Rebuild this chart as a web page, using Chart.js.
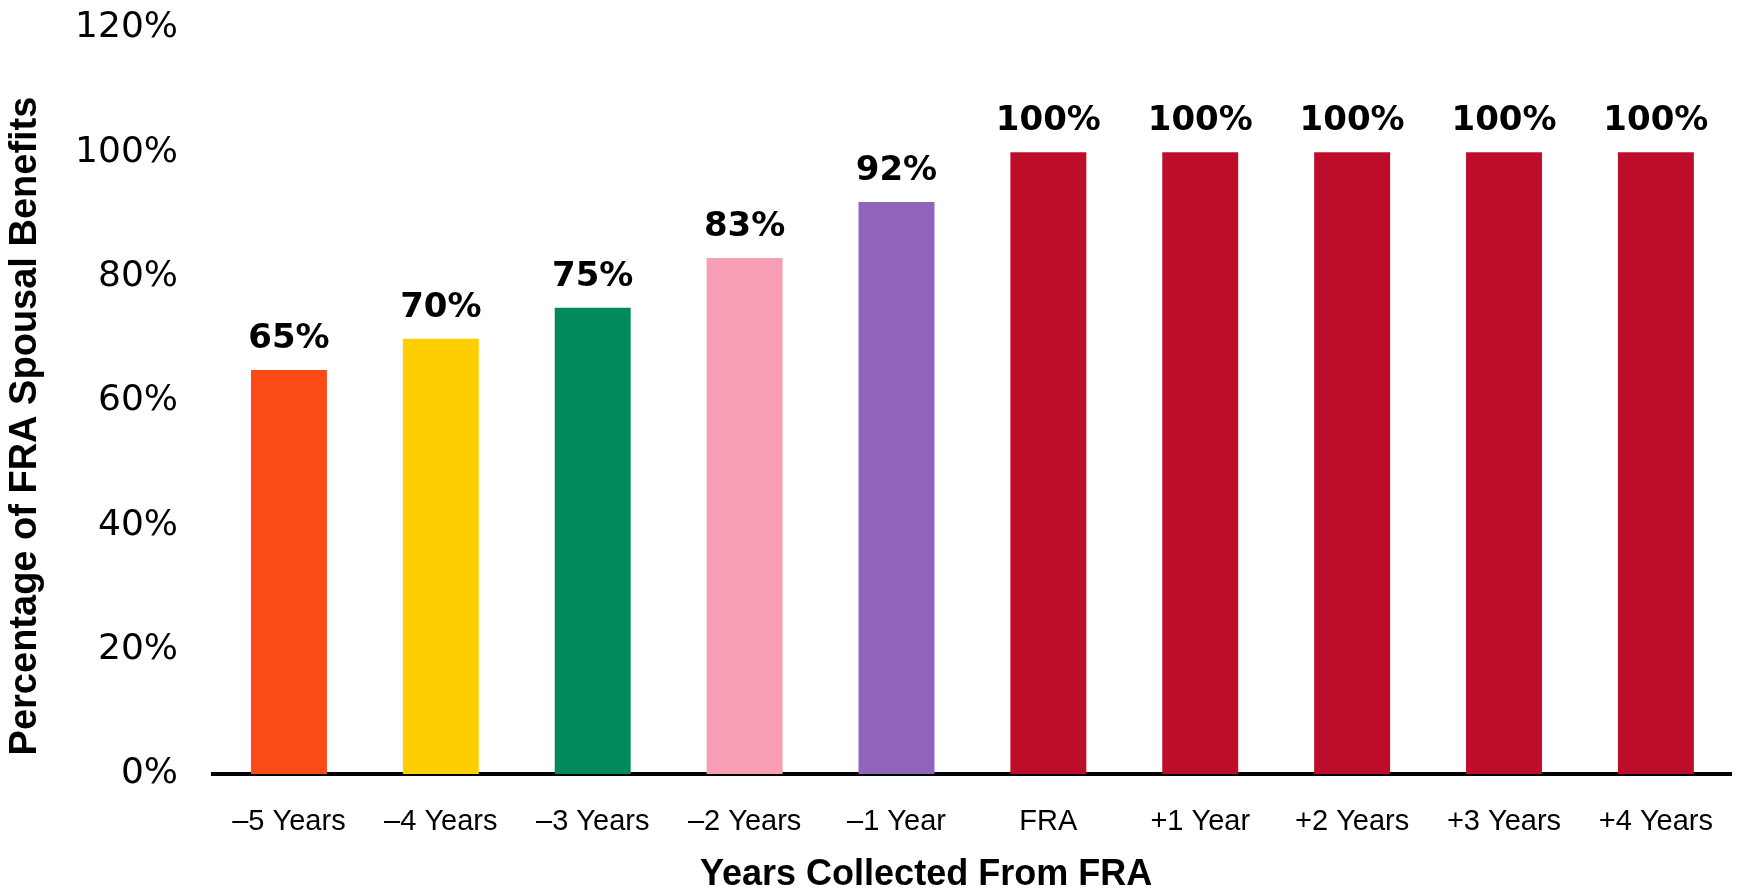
<!DOCTYPE html>
<html>
<head>
<meta charset="utf-8">
<script src="https://cdn.jsdelivr.net/npm/chart.js@4"></script>
<style>
  html, body { margin: 0; padding: 0; background: #fff; }
  canvas { display: block; }
</style>
</head>
<body>
<canvas id="c" width="1744" height="893"></canvas>
<script>
// data
const categories = ['–5 Years', '–4 Years', '–3 Years', '–2 Years', '–1 Year', 'FRA', '+1 Year', '+2 Years', '+3 Years', '+4 Years'];
const benefitPct = [65, 70, 75, 83, 92, 100, 100, 100, 100, 100];
const barColors = ['#FC4A17', '#FDCE02', '#008A5B', '#F99FB5', '#8F64BA', '#BE0D2B', '#BE0D2B', '#BE0D2B', '#BE0D2B', '#BE0D2B'];
const yTicks = [0, 20, 40, 60, 80, 100, 120];

const xTitle = 'Years Collected From FRA';
const yTitle = 'Percentage of FRA Spousal Benefits';

// value labels above each bar + the two axis titles
const labelsPlugin = {
  id: 'labels',
  afterDatasetsDraw(chart) {
    const ctx = chart.ctx;
    const meta = chart.getDatasetMeta(0);
    ctx.save();
    ctx.fillStyle = '#000';
    ctx.font = 'bold 34px "DejaVu Sans"';
    ctx.textAlign = 'center';
    ctx.textBaseline = 'middle';
    meta.data.forEach((bar, i) => {
      ctx.fillText(benefitPct[i] + '%', bar.x, bar.y - 31);
    });

    // x axis title (sits a bit left of the plot centre in the original)
    ctx.font = 'bold 36px "Liberation Sans"';
    ctx.fillText(xTitle, chart.width * 0.531, 875);

    // y axis title
    ctx.translate(26, 426);
    ctx.rotate(-Math.PI / 2);
    ctx.font = 'bold 38px "Liberation Sans"';
    ctx.fillText(yTitle, 0, 0);
    ctx.restore();
  }
};

new Chart(document.getElementById('c'), {
  type: 'bar',
  data: {
    labels: categories,
    datasets: [{
      data: benefitPct,
      backgroundColor: barColors,
      borderWidth: 0,
      categoryPercentage: 1.0,
      barPercentage: 0.5
    }]
  },
  options: {
    responsive: false,
    animation: false,
    layout: { padding: { top: 28, right: 0, bottom: 0, left: 0 } },
    plugins: {
      legend: { display: false },
      tooltip: { enabled: false }
    },
    scales: {
      x: {
        grid: { display: false, drawTicks: false },
        border: { display: true, color: '#000', width: 4 },
        ticks: {
          color: '#000',
          font: { family: 'Liberation Sans', size: 29 },
          padding: 31,
          maxRotation: 0,
          autoSkip: false
        },
        afterFit(scale) { scale.height = 119; }
      },
      y: {
        min: 0,
        max: 120,
        grid: { display: false, drawTicks: false },
        border: { display: false },
        afterBuildTicks(scale) { scale.ticks = yTicks.map(v => ({ value: v })); },
        ticks: {
          color: '#000',
          font: { family: 'DejaVu Sans', size: 36 },
          padding: 35,
          callback: v => v + '%'
        },
        afterFit(scale) {
          scale.width = 213;
          scale.paddingTop = 0;
          scale.paddingBottom = 0;
        }
      }
    }
  },
  plugins: [labelsPlugin]
});
</script>
</body>
</html>
